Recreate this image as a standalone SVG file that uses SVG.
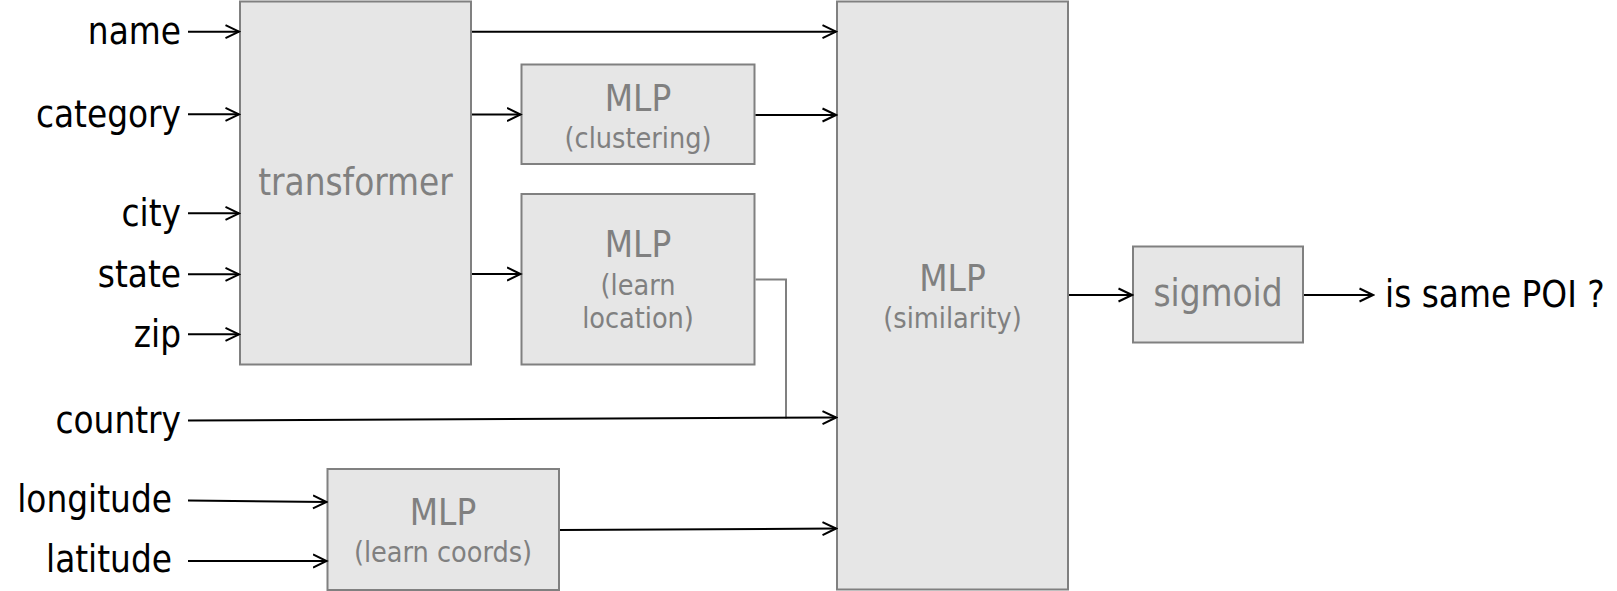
<svg xmlns="http://www.w3.org/2000/svg" width="1617" height="591" viewBox="0 0 1617 591">
<style>
.box{fill:#e6e6e6;stroke:#808080;stroke-width:2}
.lbl{font-family:"DejaVu Sans Condensed","DejaVu Sans",sans-serif;font-stretch:condensed;font-size:36.5px;fill:#000}
.gt{font-family:"DejaVu Sans Condensed","DejaVu Sans",sans-serif;font-stretch:condensed;font-size:36.5px;fill:#808080;text-anchor:middle}
.gs{font-family:"DejaVu Sans Condensed","DejaVu Sans",sans-serif;font-stretch:condensed;font-size:28.5px;fill:#808080;text-anchor:middle}
.end{text-anchor:end}
.ln{fill:none;stroke:#000;stroke-width:2;marker-end:url(#arr)}
.gl{fill:none;stroke:#808080;stroke-width:2}
</style>
<defs>
<marker id="arr" markerUnits="userSpaceOnUse" markerWidth="16" markerHeight="16" refX="14" refY="8" orient="auto" viewBox="0 0 16 16">
<path d="M0.5,1.5 L14,8 L0.5,14.5" fill="none" stroke="#000" stroke-width="2"/>
</marker>
</defs>
<g id="inputs">
<text class="lbl end" x="181" y="44">name</text>
<text class="lbl end" x="181" y="126.5">category</text>
<text class="lbl end" x="181" y="225.5">city</text>
<text class="lbl end" x="181" y="286.5">state</text>
<text class="lbl end" x="181" y="346.5">zip</text>
<text class="lbl end" x="181" y="433">country</text>
<text class="lbl end" x="172" y="512">longitude</text>
<text class="lbl end" x="172" y="572">latitude</text>
</g>
<g id="transformer">
<rect class="box" x="240" y="1.5" width="231" height="363"/>
<text class="gt" x="355.5" y="195">transformer</text>
</g>
<g id="mlp-clustering">
<rect class="box" x="521.5" y="64.5" width="233" height="99.5"/>
<text class="gt" x="638" y="110.7">MLP</text>
<text class="gs" x="638" y="148">(clustering)</text>
</g>
<g id="mlp-location">
<rect class="box" x="521.5" y="194" width="233" height="170.5"/>
<text class="gt" x="638" y="256.7">MLP</text>
<text class="gs" x="638" y="295">(learn</text>
<text class="gs" x="638" y="328">location)</text>
</g>
<g id="mlp-coords">
<rect class="box" x="327.5" y="469" width="231.5" height="121"/>
<text class="gt" x="443" y="525">MLP</text>
<text class="gs" x="443" y="561.7">(learn coords)</text>
</g>
<g id="mlp-similarity">
<rect class="box" x="837" y="1.5" width="231" height="588"/>
<text class="gt" x="952.5" y="291">MLP</text>
<text class="gs" x="952.5" y="328">(similarity)</text>
</g>
<g id="sigmoid">
<rect class="box" x="1133" y="246.5" width="170" height="96"/>
<text class="gt" x="1218" y="306">sigmoid</text>
</g>
<g id="output">
<text class="lbl" x="1385" y="307">is same POI ?</text>
</g>
<g id="connectors">
<line class="ln" x1="188" y1="31.7" x2="239" y2="31.7"/>
<line class="ln" x1="188" y1="114.3" x2="239" y2="114.3"/>
<line class="ln" x1="188" y1="213.3" x2="239" y2="213.3"/>
<line class="ln" x1="188" y1="274.3" x2="239" y2="274.3"/>
<line class="ln" x1="188" y1="334.3" x2="239" y2="334.3"/>
<line class="ln" x1="472" y1="31.7" x2="836" y2="31.7"/>
<line class="ln" x1="472" y1="114.5" x2="520.5" y2="114.5"/>
<line class="ln" x1="755.5" y1="115" x2="836" y2="115"/>
<line class="ln" x1="472" y1="274" x2="520.5" y2="274"/>
<polyline class="gl" points="755.5,279.5 786,279.5 786,418.5"/>
<line class="ln" x1="188" y1="420.5" x2="836" y2="417.5"/>
<line class="ln" x1="188" y1="500.5" x2="326.5" y2="502"/>
<line class="ln" x1="188" y1="561" x2="326.5" y2="561"/>
<line class="ln" x1="560" y1="530" x2="836" y2="528.5"/>
<line class="ln" x1="1069" y1="295" x2="1132" y2="295"/>
<line class="ln" x1="1304" y1="295" x2="1373" y2="295"/>
</g>
</svg>
